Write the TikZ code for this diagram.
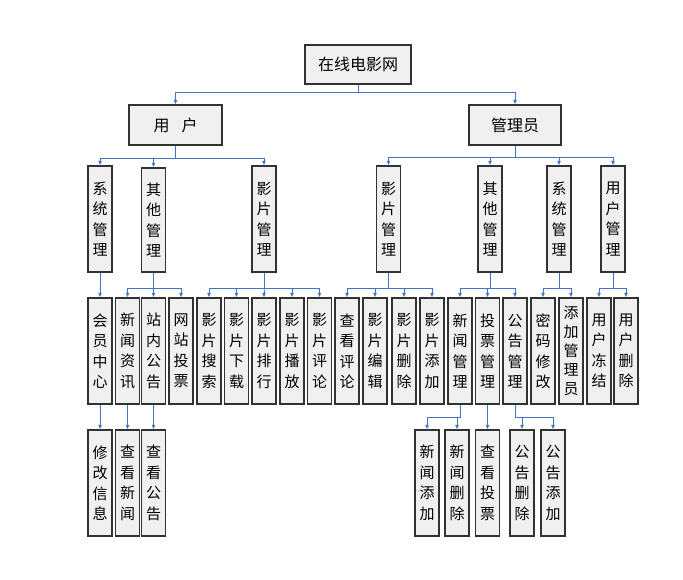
\documentclass[tikz,border=0pt]{standalone}
\usepackage{fontspec}
\usetikzlibrary{arrows.meta}
\newfontfamily\cjk{Noto Sans CJK SC}
\definecolor{linkblue}{RGB}{68,114,196}
\definecolor{boxline}{RGB}{50,50,50}
\tikzset{
	box/.style={draw=boxline, fill=gray!12, line width=1.2pt, inner sep=0pt},
	hbox/.style={box, minimum width=93pt, minimum height=40pt,
		font=\cjk\fontsize{16}{16}\selectfont},
	vbox/.style={box, minimum width=24pt, minimum height=106pt, align=center,
		font=\cjk\fontsize{15}{20.5}\selectfont},
	link/.style={draw=linkblue, line width=0.9pt, -{Latex[length=4.5pt,width=4pt]}}
}
\begin{document}
\begin{tikzpicture}[x=1pt,y=-1pt]
	\useasboundingbox (0,0) rectangle (683,579);

	% radice
	\node[hbox, minimum width=106pt, minimum height=39pt] (root) at (358,64.5) {在线电影网};
	\node[hbox] (user) at (175.5,125) {用\hspace{12pt}户};
	\node[hbox, minimum width=92pt] (admin) at (515,125) {管理员};

	% secondo livello
	\node[vbox] (usys) at (100,219) {系\\统\\管\\理};
	\node[vbox, minimum height=104pt] (uoth) at (153.5,220) {其\\他\\管\\理};
	\node[vbox] (ufilm) at (264,219) {影\\片\\管\\理};
	\node[vbox] (afilm) at (388.5,219) {影\\片\\管\\理};
	\node[vbox] (aoth) at (490,219) {其\\他\\管\\理};
	\node[vbox] (asys) at (559,219) {系\\统\\管\\理};
	\node[vbox] (auser) at (613,219) {用\\户\\管\\理};

	% terzo livello
	\node[vbox] (hy) at (100,351) {会\\员\\中\\心};
	\node[vbox] (xw) at (127.5,351) {新\\闻\\资\\讯};
	\node[vbox] (zn) at (153.5,351) {站\\内\\公\\告};
	\node[vbox] (wt) at (181,351) {网\\站\\投\\票};
	\node[vbox] (ys) at (209,351) {影\\片\\搜\\索};
	\node[vbox] (yx) at (236.5,351) {影\\片\\下\\载};
	\node[vbox] (yp) at (264,351) {影\\片\\排\\行};
	\node[vbox] (yb) at (292,351) {影\\片\\播\\放};
	\node[vbox] (yl) at (319.5,351) {影\\片\\评\\论};
	\node[vbox] (ck) at (347,351) {查\\看\\评\\论};
	\node[vbox] (bj) at (375,351) {影\\片\\编\\辑};
	\node[vbox] (sc) at (404,351) {影\\片\\删\\除};
	\node[vbox] (tj) at (432,351) {影\\片\\添\\加};
	\node[vbox] (xg) at (460,351) {新\\闻\\管\\理};
	\node[vbox] (tg) at (487.5,351) {投\\票\\管\\理};
	\node[vbox] (gg) at (515,351) {公\\告\\管\\理};
	\node[vbox] (mm) at (543,351) {密\\码\\修\\改};
	\node[vbox, font=\cjk\fontsize{15}{19}\selectfont] (tm) at (571,351) {添\\加\\管\\理\\员};
	\node[vbox] (dj) at (599,351) {用\\户\\冻\\结};
	\node[vbox] (sh) at (626,351) {用\\户\\删\\除};

	% quarto livello
	\node[vbox] (xx) at (100,483) {修\\改\\信\\息};
	\node[vbox] (kx) at (127.5,483) {查\\看\\新\\闻};
	\node[vbox] (kg) at (153.5,483) {查\\看\\公\\告};
	\node[vbox] (xt) at (427,483) {新\\闻\\添\\加};
	\node[vbox] (xs) at (457,483) {新\\闻\\删\\除};
	\node[vbox] (kt) at (487.5,483) {查\\看\\投\\票};
	\node[vbox] (gs) at (522,483) {公\\告\\删\\除};
	\node[vbox] (gt) at (553,483) {公\\告\\添\\加};

	% collegamenti
	\foreach \c in {user,admin}
		\draw[link] (root.south) -- ++(0,8) -| (\c.north);
	\foreach \c in {usys,uoth,ufilm}
		\draw[link] (user.south) -- ++(0,13) -| (\c.north);
	\foreach \c in {afilm,aoth,asys,auser}
		\draw[link] (admin.south) -- ++(0,11.5) -| (\c.north);

	\draw[link] (usys.south) -- (hy.north);
	\foreach \c in {xw,zn,wt}
		\draw[link] (uoth.south) -- ++(0,16) -| (\c.north);
	\foreach \c in {ys,yx,yp,yb,yl}
		\draw[link] (ufilm.south) -- ++(0,16) -| (\c.north);
	\foreach \c in {ck,bj,sc,tj}
		\draw[link] (afilm.south) -- ++(0,16) -| (\c.north);
	\foreach \c in {xg,tg,gg}
		\draw[link] (aoth.south) -- ++(0,16) -| (\c.north);
	\foreach \c in {mm,tm}
		\draw[link] (asys.south) -- ++(0,16) -| (\c.north);
	\foreach \c in {dj,sh}
		\draw[link] (auser.south) -- ++(0,16) -| (\c.north);

	\draw[link] (hy.south) -- (xx.north);
	\draw[link] (xw.south) -- (kx.north);
	\draw[link] (zn.south) -- (kg.north);
	\foreach \c in {xt,xs}
		\draw[link] (xg.south) -- ++(0,13) -| (\c.north);
	\draw[link] (tg.south) -- (kt.north);
	\foreach \c in {gs,gt}
		\draw[link] (gg.south) -- ++(0,13) -| (\c.north);

\end{tikzpicture}
\end{document}
